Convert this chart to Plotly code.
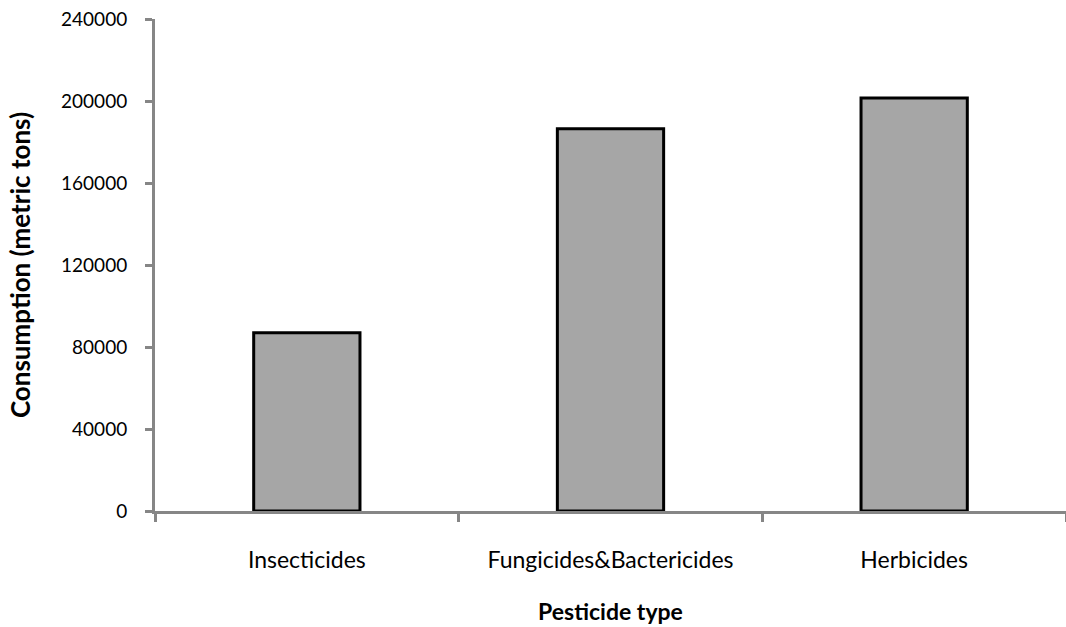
import plotly.graph_objects as go

# Pesticide consumption by type
categories = ["Insecticides", "Fungicides&Bactericides", "Herbicides"]
consumption = [87000, 186500, 201500]
y_ticks = [0, 40000, 80000, 120000, 160000, 200000, 240000]

AXIS_GREY = "#868686"
FONT = "Lato"

fig = go.Figure(
    go.Bar(
        x=categories,
        y=consumption,
        width=0.35,
        marker=dict(color="#A6A6A6", line=dict(color="black", width=3)),
    )
)

fig.update_layout(
    width=1066,
    height=627,
    margin=dict(l=155, r=0, t=19, b=116),
    paper_bgcolor="white",
    plot_bgcolor="white",
    showlegend=False,
    font=dict(family=FONT, color="black", size=19),
)

fig.update_xaxes(
    showline=True,
    linecolor=AXIS_GREY,
    linewidth=3,
    ticks="outside",
    tickson="boundaries",
    ticklen=8,
    tickwidth=3,
    tickcolor=AXIS_GREY,
    showgrid=False,
    ticklabelstandoff=26,
    tickfont=dict(size=23),
    title=dict(text="<b>Pesticide type</b>", font=dict(size=23), standoff=33),
    automargin=False,
)

fig.update_yaxes(
    range=[0, 240000],
    tickvals=y_ticks,
    ticktext=[str(v) for v in y_ticks],
    showline=True,
    linecolor=AXIS_GREY,
    linewidth=3,
    ticks="outside",
    ticklen=7,
    tickwidth=3,
    tickcolor=AXIS_GREY,
    showgrid=False,
    zeroline=False,
    ticklabelstandoff=14,
    tickfont=dict(size=19),
    title=dict(text="<b>Consumption (metric tons)</b>", font=dict(size=26), standoff=23),
    automargin=False,
)

fig.write_html("out.html")
